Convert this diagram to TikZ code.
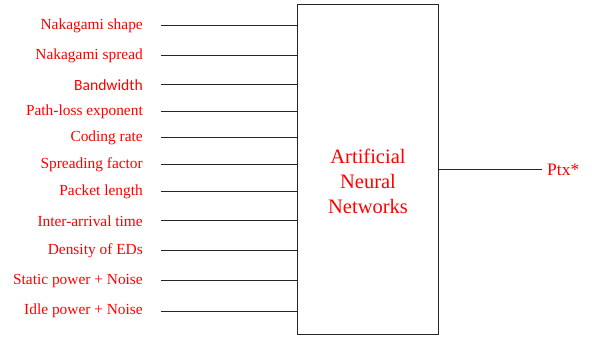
\documentclass[tikz,border=0pt]{standalone}
\usepackage{fontspec}
\setmainfont{Liberation Serif}
\newfontfamily\calib{Carlito}
\definecolor{lblred}{RGB}{255,0,0}
\begin{document}
\begin{tikzpicture}[x=1pt,y=-1pt,
  lbl/.style={anchor=east,text=lblred,font=\fontsize{15.4}{18}\selectfont,inner sep=0pt},
  wire/.style={draw=black!85,line width=1pt},
  annbox/.style={draw=black!85,line width=1pt,minimum width=141pt,minimum height=329pt,inner sep=0pt}]
\useasboundingbox (0,0) rectangle (592,339);
\node[annbox] (ann) at (367.5,169.5) {};
\node[text=lblred,font=\fontsize{20.5}{25}\selectfont,align=center] (annt) at (368,181) {Artificial\\Neural\\Networks};
\foreach \t/\y/\n in {Nakagami shape/26/a,Nakagami spread/56/b,Path-loss exponent/112/d,Coding rate/138/e,Spreading factor/165/f,Packet length/192/g,Inter-arrival time/221/h,Density of EDs/251/i,Static power + Noise/281/j,Idle power + Noise/311/k}{
  \node[lbl] (l\n) at (143,\y) {\t};
  \coordinate (s\n) at (161,\y);
  \draw[wire] (s\n) -- (s\n -| ann.west);
}
\node[lbl,font=\calib\fontsize{15.6}{18}\selectfont] (lc) at (143,85) {Bandwidth};
\coordinate (sc) at (161,85);
\draw[wire] (sc) -- (sc -| ann.west);
\node[anchor=west,text=lblred,font=\fontsize{17.5}{20}\selectfont,inner sep=0pt] (out) at (547,170) {Ptx*};
\draw[wire] (ann.east |- out.west) -- ([xshift=-5pt]out.west);
\end{tikzpicture}
\end{document}
